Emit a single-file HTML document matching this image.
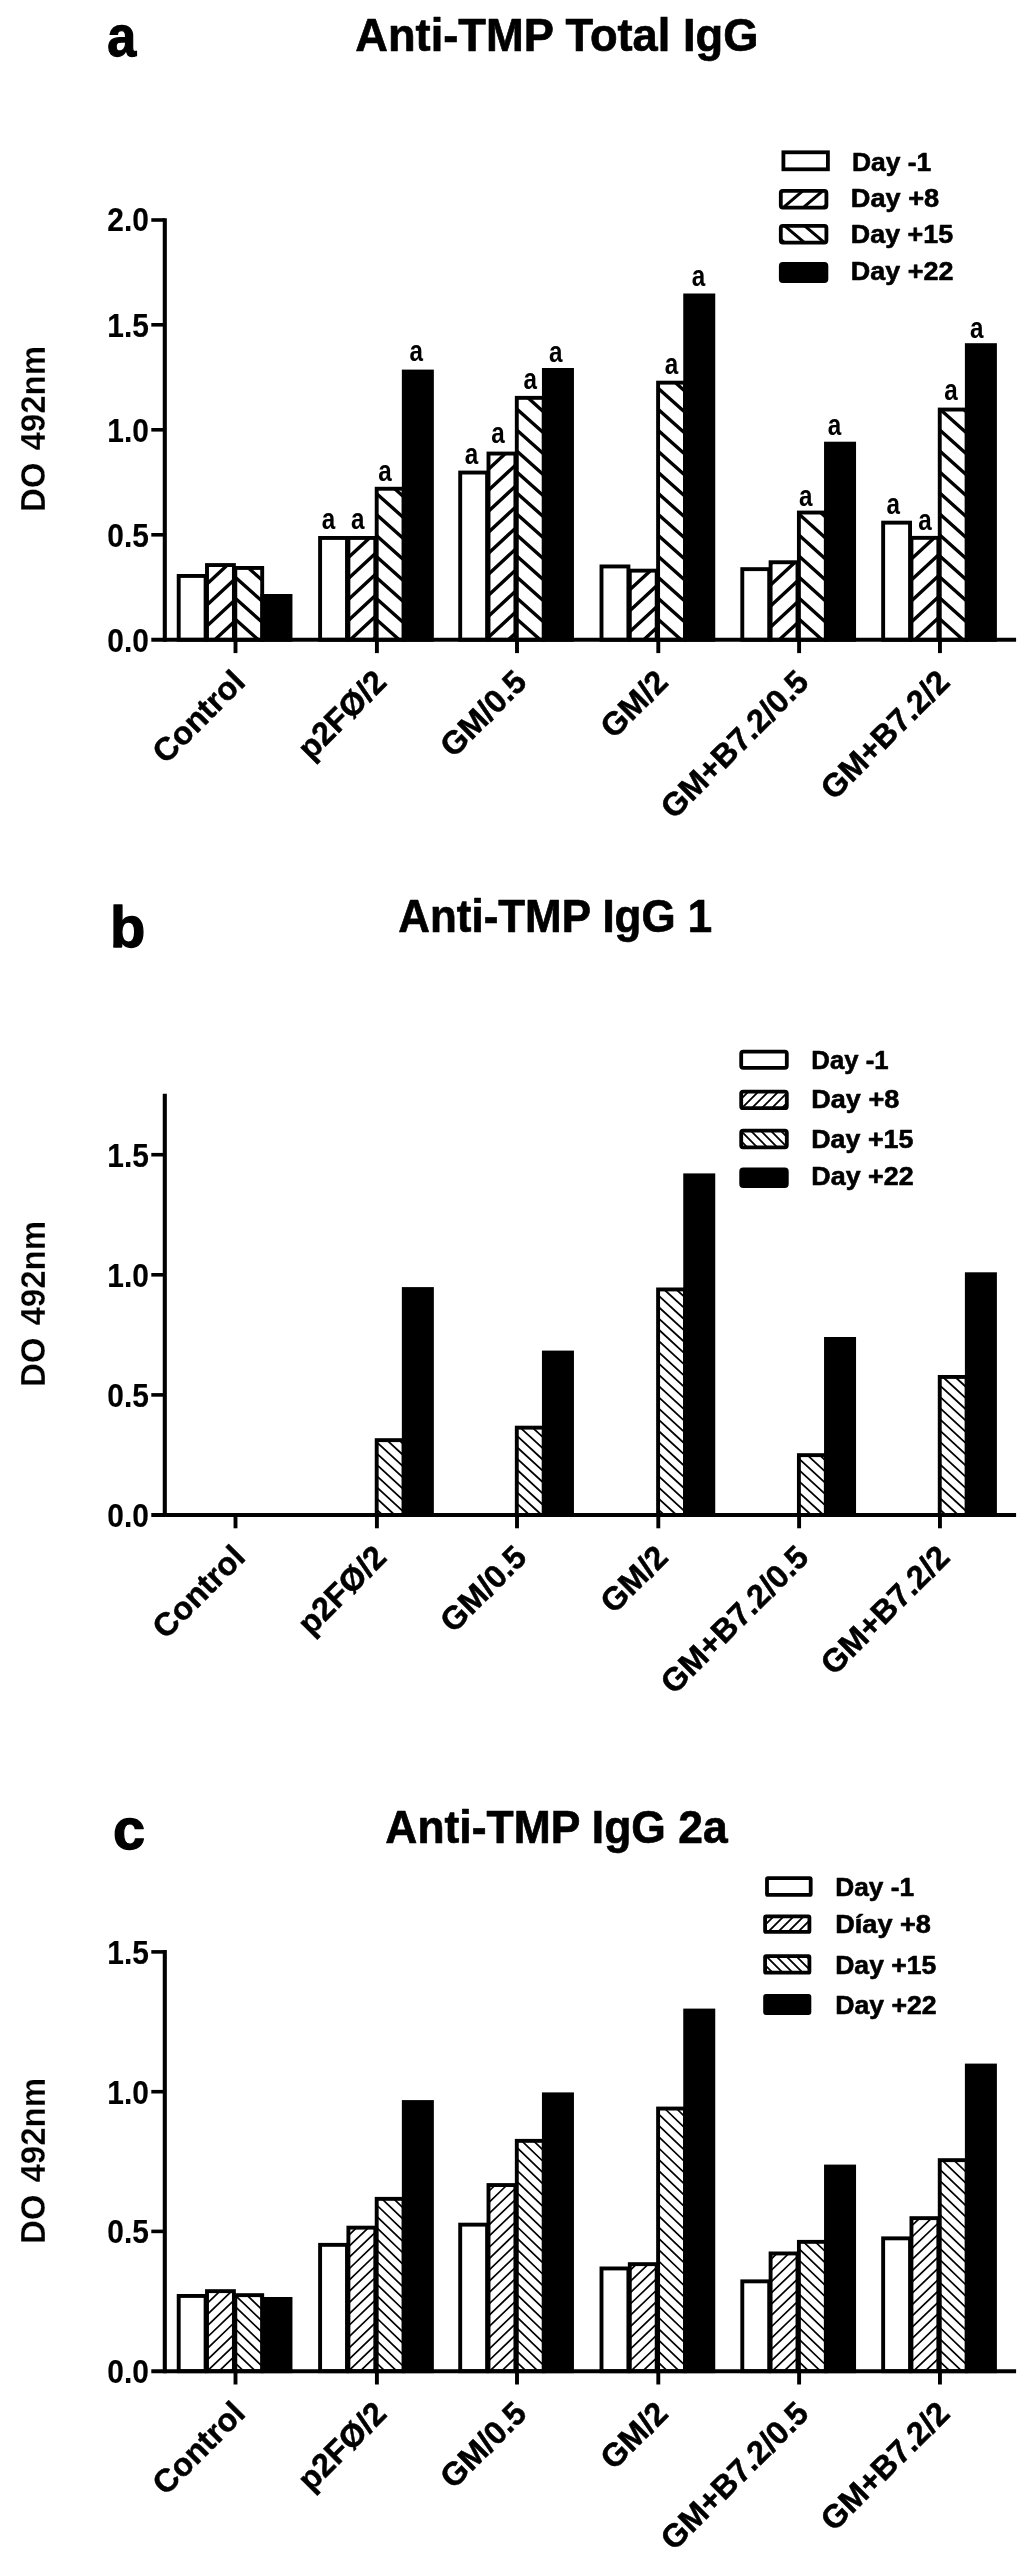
<!DOCTYPE html>
<html lang="en"><head><meta charset="utf-8"><title>Anti-TMP IgG responses</title>
<style>html,body{margin:0;padding:0;background:#fff}body{width:1024px;height:2556px;overflow:hidden}svg{display:block;filter:blur(0.45px)}line,path,rect{stroke:#000}</style>
</head><body>
<svg width="1024" height="2556" viewBox="0 0 1024 2556" font-family='"Liberation Sans", sans-serif' fill="#000">
<rect x="0" y="0" width="1024" height="2556" style="fill:#fff;stroke:none"/>
<g id="panel-a">
<text transform="translate(107.30,55.50) scale(0.9000,1)" font-size="57.8" font-weight="bold" text-anchor="start" stroke="#000" stroke-width="1.3" stroke-linejoin="round">a</text>
<text transform="translate(556.80,51.30) scale(0.9840,1)" font-size="46" font-weight="bold" text-anchor="middle" stroke="#000" stroke-width="0.7" stroke-linejoin="round">Anti-TMP Total IgG</text>
<rect x="178.70" y="575.95" width="26.90" height="63.85" fill="none" stroke-width="3.9"/>
<path d="M207.0 584.0L227.4 565.1M207.0 605.0L233.9 580.0M207.0 626.0L233.9 601.0M214.8 639.8L233.9 622.0" fill="none" stroke-width="3.4"/>
<rect x="207.00" y="565.05" width="26.90" height="74.75" fill="none" stroke-width="3.9"/>
<path d="M248.4 568.0L262.2 580.3M235.3 577.3L262.2 601.3M235.3 598.3L262.2 622.3M235.3 619.3L258.3 639.8" fill="none" stroke-width="3.4"/>
<rect x="235.30" y="567.95" width="26.90" height="71.85" fill="none" stroke-width="3.9"/>
<rect x="262.40" y="595.95" width="28.10" height="43.85" fill="#000" stroke-width="3.9"/>
<rect x="320.10" y="537.95" width="26.90" height="101.85" fill="none" stroke-width="3.9"/>
<path d="M348.4 557.5L369.5 538.0M348.4 578.5L375.3 553.5M348.4 599.5L375.3 574.5M348.4 620.5L375.3 595.5M350.3 639.8L375.3 616.5M372.9 639.8L375.3 637.5" fill="none" stroke-width="3.4"/>
<rect x="348.40" y="537.95" width="26.90" height="101.85" fill="none" stroke-width="3.9"/>
<path d="M394.7 488.8L403.6 496.7M376.7 493.7L403.6 517.7M376.7 514.7L403.6 538.7M376.7 535.7L403.6 559.7M376.7 556.7L403.6 580.7M376.7 577.7L403.6 601.7M376.7 598.7L403.6 622.7M376.7 619.7L399.2 639.8" fill="none" stroke-width="3.4"/>
<rect x="376.70" y="488.75" width="26.90" height="151.05" fill="none" stroke-width="3.9"/>
<rect x="403.80" y="371.55" width="28.10" height="268.25" fill="#000" stroke-width="3.9"/>
<rect x="460.20" y="472.55" width="26.90" height="167.25" fill="none" stroke-width="3.9"/>
<path d="M488.5 469.3L505.4 453.6M488.5 490.3L515.4 465.2M488.5 511.3L515.4 486.2M488.5 532.3L515.4 507.2M488.5 553.3L515.4 528.2M488.5 574.3L515.4 549.2M488.5 595.3L515.4 570.2M488.5 616.3L515.4 591.2M488.5 637.3L515.4 612.2M508.3 639.8L515.4 633.2" fill="none" stroke-width="3.4"/>
<rect x="488.50" y="453.55" width="26.90" height="186.25" fill="none" stroke-width="3.9"/>
<path d="M527.9 397.8L543.7 412.0M516.8 408.9L543.7 433.0M516.8 429.9L543.7 454.0M516.8 450.9L543.7 475.0M516.8 471.9L543.7 496.0M516.8 492.9L543.7 517.0M516.8 513.9L543.7 538.0M516.8 534.9L543.7 559.0M516.8 555.9L543.7 580.0M516.8 576.9L543.7 601.0M516.8 597.9L543.7 622.0M516.8 618.9L540.2 639.8" fill="none" stroke-width="3.4"/>
<rect x="516.80" y="397.85" width="26.90" height="241.95" fill="none" stroke-width="3.9"/>
<rect x="543.90" y="369.95" width="28.10" height="269.85" fill="#000" stroke-width="3.9"/>
<rect x="601.50" y="566.45" width="26.90" height="73.35" fill="none" stroke-width="3.9"/>
<path d="M629.8 589.8L650.4 570.7M629.8 610.8L656.7 585.8M629.8 631.8L656.7 606.8M643.8 639.8L656.7 627.8" fill="none" stroke-width="3.4"/>
<rect x="629.80" y="570.65" width="26.90" height="69.15" fill="none" stroke-width="3.9"/>
<path d="M675.3 382.6L685.0 391.3M658.1 388.2L685.0 412.3M658.1 409.2L685.0 433.3M658.1 430.2L685.0 454.3M658.1 451.2L685.0 475.3M658.1 472.2L685.0 496.3M658.1 493.2L685.0 517.3M658.1 514.2L685.0 538.3M658.1 535.2L685.0 559.3M658.1 556.2L685.0 580.3M658.1 577.2L685.0 601.3M658.1 598.2L685.0 622.3M658.1 619.2L681.1 639.8" fill="none" stroke-width="3.4"/>
<rect x="658.10" y="382.65" width="26.90" height="257.15" fill="none" stroke-width="3.9"/>
<rect x="685.20" y="295.45" width="28.10" height="344.35" fill="#000" stroke-width="3.9"/>
<rect x="742.30" y="569.15" width="26.90" height="70.65" fill="none" stroke-width="3.9"/>
<path d="M770.6 563.9L772.4 562.2M770.6 584.9L795.0 562.2M770.6 605.9L797.5 580.9M770.6 626.9L797.5 601.9M779.3 639.8L797.5 622.9" fill="none" stroke-width="3.4"/>
<rect x="770.60" y="562.25" width="26.90" height="77.55" fill="none" stroke-width="3.9"/>
<path d="M820.6 512.6L825.8 517.2M798.9 514.1L825.8 538.2M798.9 535.1L825.8 559.2M798.9 556.1L825.8 580.2M798.9 577.1L825.8 601.2M798.9 598.1L825.8 622.2M798.9 619.1L822.0 639.8" fill="none" stroke-width="3.4"/>
<rect x="798.90" y="512.55" width="26.90" height="127.25" fill="none" stroke-width="3.9"/>
<rect x="826.00" y="443.65" width="28.10" height="196.15" fill="#000" stroke-width="3.9"/>
<rect x="883.15" y="522.65" width="26.90" height="117.15" fill="none" stroke-width="3.9"/>
<path d="M911.4 537.9L911.5 537.9M911.4 558.9L934.1 537.9M911.4 579.9L938.3 554.9M911.4 600.9L938.3 575.9M911.4 621.9L938.3 596.9M914.8 639.8L938.3 617.9M937.4 639.8L938.3 638.9" fill="none" stroke-width="3.4"/>
<rect x="911.45" y="537.85" width="26.90" height="101.95" fill="none" stroke-width="3.9"/>
<path d="M963.8 409.6L966.6 412.1M940.3 409.6L966.6 433.1M939.8 430.0L966.6 454.1M939.8 451.0L966.6 475.1M939.8 472.0L966.6 496.1M939.8 493.0L966.6 517.1M939.8 514.0L966.6 538.1M939.8 535.0L966.6 559.1M939.8 556.0L966.6 580.1M939.8 577.0L966.6 601.1M939.8 598.0L966.6 622.1M939.8 619.0L963.0 639.8" fill="none" stroke-width="3.4"/>
<rect x="939.75" y="409.55" width="26.90" height="230.25" fill="none" stroke-width="3.9"/>
<rect x="966.85" y="345.15" width="28.10" height="294.65" fill="#000" stroke-width="3.9"/>
<line x1="164.80" y1="218.30" x2="164.80" y2="641.80" stroke-width="4.1"/>
<line x1="151.30" y1="639.80" x2="1016.10" y2="639.80" stroke-width="4.0"/>
<line x1="151.30" y1="220.00" x2="164.80" y2="220.00" stroke-width="3.6"/>
<text transform="translate(148.80,230.70) scale(0.9000,1)" font-size="33.2" font-weight="bold" text-anchor="end" stroke="#000" stroke-width="0.15" stroke-linejoin="round">2.0</text>
<line x1="151.30" y1="324.80" x2="164.80" y2="324.80" stroke-width="3.6"/>
<text transform="translate(148.80,336.80) scale(0.9000,1)" font-size="33.2" font-weight="bold" text-anchor="end" stroke="#000" stroke-width="0.15" stroke-linejoin="round">1.5</text>
<line x1="151.30" y1="429.80" x2="164.80" y2="429.80" stroke-width="3.6"/>
<text transform="translate(148.80,441.80) scale(0.9000,1)" font-size="33.2" font-weight="bold" text-anchor="end" stroke="#000" stroke-width="0.15" stroke-linejoin="round">1.0</text>
<line x1="151.30" y1="534.80" x2="164.80" y2="534.80" stroke-width="3.6"/>
<text transform="translate(148.80,546.80) scale(0.9000,1)" font-size="33.2" font-weight="bold" text-anchor="end" stroke="#000" stroke-width="0.15" stroke-linejoin="round">0.5</text>
<text transform="translate(148.80,651.80) scale(0.9000,1)" font-size="33.2" font-weight="bold" text-anchor="end" stroke="#000" stroke-width="0.15" stroke-linejoin="round">0.0</text>
<line x1="235.50" y1="639.80" x2="235.50" y2="653.10" stroke-width="3.9"/>
<line x1="376.90" y1="639.80" x2="376.90" y2="653.10" stroke-width="3.9"/>
<line x1="517.00" y1="639.80" x2="517.00" y2="653.10" stroke-width="3.9"/>
<line x1="658.30" y1="639.80" x2="658.30" y2="653.10" stroke-width="3.9"/>
<line x1="799.10" y1="639.80" x2="799.10" y2="653.10" stroke-width="3.9"/>
<line x1="939.95" y1="639.80" x2="939.95" y2="653.10" stroke-width="3.9"/>
<text transform="translate(45.20,429.00) rotate(-90) scale(0.9430,1)" font-size="35" font-weight="bold" text-anchor="middle" word-spacing="3" stroke="#fff" stroke-width="0.3">DO 492nm</text>
<text transform="translate(246.90,683.80) rotate(-45)" font-size="32.3" font-weight="bold" text-anchor="end" stroke="#000" stroke-width="0.5" stroke-linejoin="round">Control</text>
<text transform="translate(388.30,683.80) rotate(-45)" font-size="32.3" font-weight="bold" text-anchor="end" stroke="#000" stroke-width="0.5" stroke-linejoin="round">p2FØ/2</text>
<text transform="translate(528.40,683.80) rotate(-45)" font-size="32.3" font-weight="bold" text-anchor="end" stroke="#000" stroke-width="0.5" stroke-linejoin="round">GM/0.5</text>
<text transform="translate(669.70,683.80) rotate(-45)" font-size="32.3" font-weight="bold" text-anchor="end" stroke="#000" stroke-width="0.5" stroke-linejoin="round">GM/2</text>
<text transform="translate(810.50,683.80) rotate(-45)" font-size="32.3" font-weight="bold" text-anchor="end" stroke="#000" stroke-width="0.5" stroke-linejoin="round">GM+B7.2/0.5</text>
<text transform="translate(951.35,683.80) rotate(-45)" font-size="32.3" font-weight="bold" text-anchor="end" stroke="#000" stroke-width="0.5" stroke-linejoin="round">GM+B7.2/2</text>
<rect x="783.40" y="152.30" width="44.50" height="17.00" fill="none" stroke-width="3.8"/>
<path d="M780.8 192.6L782.8 190.9M783.2 207.6L802.8 190.9M803.2 207.6L822.8 190.9M823.2 207.6L826.4 204.9" fill="none" stroke-width="3.0"/>
<rect x="780.80" y="190.90" width="45.60" height="16.70" fill="none" stroke-width="3.8" rx="2"/>
<path d="M824.7 225.8L826.4 227.2M804.7 225.8L824.5 242.6M784.7 225.8L804.5 242.6M780.8 239.5L784.5 242.6" fill="none" stroke-width="3.0"/>
<rect x="780.80" y="225.80" width="45.60" height="16.80" fill="none" stroke-width="3.8" rx="2"/>
<rect x="780.80" y="264.00" width="45.60" height="17.10" fill="#000" stroke-width="3.8" rx="2"/>
<text transform="translate(851.88,170.80) scale(1.0092,1)" font-size="26.2" font-weight="bold" text-anchor="start" stroke="#000" stroke-width="0.6" stroke-linejoin="round">Day -1</text>
<text transform="translate(850.83,206.90) scale(1.0375,1)" font-size="26.2" font-weight="bold" text-anchor="start" stroke="#000" stroke-width="0.6" stroke-linejoin="round">Day +8</text>
<text transform="translate(850.85,242.80) scale(1.0257,1)" font-size="26.2" font-weight="bold" text-anchor="start" stroke="#000" stroke-width="0.6" stroke-linejoin="round">Day +15</text>
<text transform="translate(850.85,280.40) scale(1.0289,1)" font-size="26.2" font-weight="bold" text-anchor="start" stroke="#000" stroke-width="0.6" stroke-linejoin="round">Day +22</text>
<text transform="translate(328.40,528.90) scale(0.8200,1)" font-size="29.6" font-weight="bold" text-anchor="middle">a</text>
<text transform="translate(357.70,528.90) scale(0.8200,1)" font-size="29.6" font-weight="bold" text-anchor="middle">a</text>
<text transform="translate(385.00,480.50) scale(0.8200,1)" font-size="29.6" font-weight="bold" text-anchor="middle">a</text>
<text transform="translate(416.30,360.70) scale(0.8200,1)" font-size="29.6" font-weight="bold" text-anchor="middle">a</text>
<text transform="translate(471.40,463.80) scale(0.8200,1)" font-size="29.6" font-weight="bold" text-anchor="middle">a</text>
<text transform="translate(498.00,443.30) scale(0.8200,1)" font-size="29.6" font-weight="bold" text-anchor="middle">a</text>
<text transform="translate(530.30,389.10) scale(0.8200,1)" font-size="29.6" font-weight="bold" text-anchor="middle">a</text>
<text transform="translate(555.80,361.90) scale(0.8200,1)" font-size="29.6" font-weight="bold" text-anchor="middle">a</text>
<text transform="translate(671.60,373.50) scale(0.8200,1)" font-size="29.6" font-weight="bold" text-anchor="middle">a</text>
<text transform="translate(698.60,285.70) scale(0.8200,1)" font-size="29.6" font-weight="bold" text-anchor="middle">a</text>
<text transform="translate(805.80,506.00) scale(0.8200,1)" font-size="29.6" font-weight="bold" text-anchor="middle">a</text>
<text transform="translate(834.40,434.80) scale(0.8200,1)" font-size="29.6" font-weight="bold" text-anchor="middle">a</text>
<text transform="translate(893.20,513.50) scale(0.8200,1)" font-size="29.6" font-weight="bold" text-anchor="middle">a</text>
<text transform="translate(925.00,530.00) scale(0.8200,1)" font-size="29.6" font-weight="bold" text-anchor="middle">a</text>
<text transform="translate(951.10,399.50) scale(0.8200,1)" font-size="29.6" font-weight="bold" text-anchor="middle">a</text>
<text transform="translate(976.80,337.50) scale(0.8200,1)" font-size="29.6" font-weight="bold" text-anchor="middle">a</text>
</g>
<g id="panel-b">
<text transform="translate(110.00,947.00)" font-size="57.8" font-weight="bold" text-anchor="start" stroke="#000" stroke-width="1.3" stroke-linejoin="round">b</text>
<text transform="translate(555.25,932.00) scale(0.9550,1)" font-size="46" font-weight="bold" text-anchor="middle" stroke="#000" stroke-width="0.7" stroke-linejoin="round">Anti-TMP IgG 1</text>
<path d="M399.1 1440.2L403.6 1444.3M386.9 1440.2L403.6 1455.5M376.7 1442.1L403.6 1466.8M376.7 1453.3L403.6 1478.1M376.7 1464.6L403.6 1489.4M376.7 1475.9L403.6 1500.6M376.7 1487.1L403.6 1511.9M376.7 1498.4L394.7 1515.0M376.7 1509.7L382.5 1515.0" fill="none" stroke-width="1.8"/>
<rect x="376.70" y="1440.15" width="26.90" height="74.85" fill="none" stroke-width="3.9"/>
<rect x="403.80" y="1289.05" width="28.10" height="225.95" fill="#000" stroke-width="3.9"/>
<path d="M532.5 1427.7L543.7 1437.9M520.3 1427.7L543.7 1449.2M516.8 1435.7L543.7 1460.5M516.8 1447.0L543.7 1471.7M516.8 1458.3L543.7 1483.0M516.8 1469.5L543.7 1494.3M516.8 1480.8L543.7 1505.5M516.8 1492.1L541.7 1515.0M516.8 1503.3L529.5 1515.0M516.8 1514.6L517.2 1515.0" fill="none" stroke-width="1.8"/>
<rect x="516.80" y="1427.65" width="26.90" height="87.35" fill="none" stroke-width="3.9"/>
<rect x="543.90" y="1352.55" width="28.10" height="162.45" fill="#000" stroke-width="3.9"/>
<path d="M676.3 1289.5L685.0 1297.4M664.1 1289.5L685.0 1308.7M658.1 1295.2L685.0 1320.0M658.1 1306.5L685.0 1331.2M658.1 1317.8L685.0 1342.5M658.1 1329.0L685.0 1353.8M658.1 1340.3L685.0 1365.1M658.1 1351.6L685.0 1376.3M658.1 1362.9L685.0 1387.6M658.1 1374.1L685.0 1398.9M658.1 1385.4L685.0 1410.1M658.1 1396.7L685.0 1421.4M658.1 1407.9L685.0 1432.7M658.1 1419.2L685.0 1444.0M658.1 1430.5L685.0 1455.2M658.1 1441.7L685.0 1466.5M658.1 1453.0L685.0 1477.8M658.1 1464.3L685.0 1489.0M658.1 1475.6L685.0 1500.3M658.1 1486.8L685.0 1511.6M658.1 1498.1L676.5 1515.0M658.1 1509.4L664.2 1515.0" fill="none" stroke-width="1.8"/>
<rect x="658.10" y="1289.45" width="26.90" height="225.55" fill="none" stroke-width="3.9"/>
<rect x="685.20" y="1175.35" width="28.10" height="339.65" fill="#000" stroke-width="3.9"/>
<path d="M819.7 1455.2L825.8 1460.8M807.4 1455.2L825.8 1472.1M798.9 1458.6L825.8 1483.3M798.9 1469.8L825.8 1494.6M798.9 1481.1L825.8 1505.9M798.9 1492.4L823.5 1515.0M798.9 1503.7L811.2 1515.0M798.9 1514.9L799.0 1515.0" fill="none" stroke-width="1.8"/>
<rect x="798.90" y="1455.15" width="26.90" height="59.85" fill="none" stroke-width="3.9"/>
<rect x="826.00" y="1338.95" width="28.10" height="176.05" fill="#000" stroke-width="3.9"/>
<path d="M955.2 1377.0L966.6 1387.5M942.9 1377.0L966.6 1398.8M939.8 1385.3L966.6 1410.0M939.8 1396.6L966.6 1421.3M939.8 1407.8L966.6 1432.6M939.8 1419.1L966.6 1443.9M939.8 1430.4L966.6 1455.1M939.8 1441.7L966.6 1466.4M939.8 1452.9L966.6 1477.7M939.8 1464.2L966.6 1488.9M939.8 1475.5L966.6 1500.2M939.8 1486.7L966.6 1511.5M939.8 1498.0L958.2 1515.0M939.8 1509.3L946.0 1515.0" fill="none" stroke-width="1.8"/>
<rect x="939.75" y="1376.95" width="26.90" height="138.05" fill="none" stroke-width="3.9"/>
<rect x="966.85" y="1274.25" width="28.10" height="240.75" fill="#000" stroke-width="3.9"/>
<line x1="164.80" y1="1093.80" x2="164.80" y2="1517.00" stroke-width="4.1"/>
<line x1="151.30" y1="1515.00" x2="1016.10" y2="1515.00" stroke-width="4.0"/>
<line x1="151.30" y1="1154.70" x2="164.80" y2="1154.70" stroke-width="3.6"/>
<text transform="translate(148.80,1166.70) scale(0.9000,1)" font-size="33.2" font-weight="bold" text-anchor="end" stroke="#000" stroke-width="0.15" stroke-linejoin="round">1.5</text>
<line x1="151.30" y1="1274.80" x2="164.80" y2="1274.80" stroke-width="3.6"/>
<text transform="translate(148.80,1286.80) scale(0.9000,1)" font-size="33.2" font-weight="bold" text-anchor="end" stroke="#000" stroke-width="0.15" stroke-linejoin="round">1.0</text>
<line x1="151.30" y1="1394.90" x2="164.80" y2="1394.90" stroke-width="3.6"/>
<text transform="translate(148.80,1406.90) scale(0.9000,1)" font-size="33.2" font-weight="bold" text-anchor="end" stroke="#000" stroke-width="0.15" stroke-linejoin="round">0.5</text>
<text transform="translate(148.80,1527.00) scale(0.9000,1)" font-size="33.2" font-weight="bold" text-anchor="end" stroke="#000" stroke-width="0.15" stroke-linejoin="round">0.0</text>
<line x1="235.50" y1="1515.00" x2="235.50" y2="1528.30" stroke-width="3.9"/>
<line x1="376.90" y1="1515.00" x2="376.90" y2="1528.30" stroke-width="3.9"/>
<line x1="517.00" y1="1515.00" x2="517.00" y2="1528.30" stroke-width="3.9"/>
<line x1="658.30" y1="1515.00" x2="658.30" y2="1528.30" stroke-width="3.9"/>
<line x1="799.10" y1="1515.00" x2="799.10" y2="1528.30" stroke-width="3.9"/>
<line x1="939.95" y1="1515.00" x2="939.95" y2="1528.30" stroke-width="3.9"/>
<text transform="translate(45.20,1304.00) rotate(-90) scale(0.9430,1)" font-size="35" font-weight="bold" text-anchor="middle" word-spacing="3" stroke="#fff" stroke-width="0.3">DO 492nm</text>
<text transform="translate(246.90,1559.00) rotate(-45)" font-size="32.3" font-weight="bold" text-anchor="end" stroke="#000" stroke-width="0.5" stroke-linejoin="round">Control</text>
<text transform="translate(388.30,1559.00) rotate(-45)" font-size="32.3" font-weight="bold" text-anchor="end" stroke="#000" stroke-width="0.5" stroke-linejoin="round">p2FØ/2</text>
<text transform="translate(528.40,1559.00) rotate(-45)" font-size="32.3" font-weight="bold" text-anchor="end" stroke="#000" stroke-width="0.5" stroke-linejoin="round">GM/0.5</text>
<text transform="translate(669.70,1559.00) rotate(-45)" font-size="32.3" font-weight="bold" text-anchor="end" stroke="#000" stroke-width="0.5" stroke-linejoin="round">GM/2</text>
<text transform="translate(810.50,1559.00) rotate(-45)" font-size="32.3" font-weight="bold" text-anchor="end" stroke="#000" stroke-width="0.5" stroke-linejoin="round">GM+B7.2/0.5</text>
<text transform="translate(951.35,1559.00) rotate(-45)" font-size="32.3" font-weight="bold" text-anchor="end" stroke="#000" stroke-width="0.5" stroke-linejoin="round">GM+B7.2/2</text>
<rect x="741.20" y="1051.70" width="45.60" height="16.10" fill="none" stroke-width="3.8" rx="2"/>
<path d="M741.2 1098.8L748.4 1091.6M741.8 1108.2L758.4 1091.6M751.8 1108.2L768.4 1091.6M761.8 1108.2L778.4 1091.6M771.8 1108.2L786.8 1093.2M781.8 1108.2L786.8 1103.2" fill="none" stroke-width="1.8"/>
<rect x="741.20" y="1091.60" width="45.60" height="16.60" fill="none" stroke-width="3.8" rx="2"/>
<path d="M780.7 1130.7L786.8 1136.8M770.7 1130.7L786.8 1146.8M760.7 1130.7L777.3 1147.3M750.7 1130.7L767.3 1147.3M741.2 1131.2L757.3 1147.3M741.2 1141.2L747.3 1147.3" fill="none" stroke-width="1.8"/>
<rect x="741.20" y="1130.70" width="45.60" height="16.60" fill="none" stroke-width="3.8" rx="2"/>
<rect x="741.20" y="1169.40" width="45.60" height="16.60" fill="#000" stroke-width="3.8" rx="2"/>
<text transform="translate(811.33,1069.30) scale(0.9829,1)" font-size="26.2" font-weight="bold" text-anchor="start" stroke="#000" stroke-width="0.6" stroke-linejoin="round">Day -1</text>
<text transform="translate(811.24,1107.80) scale(1.0327,1)" font-size="26.2" font-weight="bold" text-anchor="start" stroke="#000" stroke-width="0.6" stroke-linejoin="round">Day +8</text>
<text transform="translate(811.26,1148.20) scale(1.0237,1)" font-size="26.2" font-weight="bold" text-anchor="start" stroke="#000" stroke-width="0.6" stroke-linejoin="round">Day +15</text>
<text transform="translate(811.25,1185.10) scale(1.0268,1)" font-size="26.2" font-weight="bold" text-anchor="start" stroke="#000" stroke-width="0.6" stroke-linejoin="round">Day +22</text>
</g>
<g id="panel-c">
<text transform="translate(113.00,1848.50)" font-size="57.8" font-weight="bold" text-anchor="start" stroke="#000" stroke-width="1.3" stroke-linejoin="round">c</text>
<text transform="translate(556.50,1843.10) scale(0.9660,1)" font-size="46" font-weight="bold" text-anchor="middle" stroke="#000" stroke-width="0.7" stroke-linejoin="round">Anti-TMP IgG 2a</text>
<rect x="178.70" y="2295.95" width="26.90" height="75.25" fill="none" stroke-width="3.9"/>
<path d="M207.0 2292.3L208.2 2291.1M207.0 2303.6L219.9 2291.1M207.0 2314.9L231.7 2291.1M207.0 2326.2L233.9 2300.4M207.0 2337.5L233.9 2311.7M207.0 2348.8L233.9 2323.0M207.0 2360.1L233.9 2334.3M207.2 2371.2L233.9 2345.6M219.0 2371.2L233.9 2356.9M230.7 2371.2L233.9 2368.2" fill="none" stroke-width="1.7"/>
<rect x="207.00" y="2291.15" width="26.90" height="80.05" fill="none" stroke-width="3.9"/>
<path d="M258.7 2295.1L262.2 2298.5M246.9 2295.1L262.2 2309.8M235.3 2295.3L262.2 2321.1M235.3 2306.6L262.2 2332.4M235.3 2317.9L262.2 2343.7M235.3 2329.2L262.2 2355.0M235.3 2340.5L262.2 2366.3M235.3 2351.8L255.5 2371.2M235.3 2363.1L243.7 2371.2" fill="none" stroke-width="1.7"/>
<rect x="235.30" y="2295.15" width="26.90" height="76.05" fill="none" stroke-width="3.9"/>
<rect x="262.40" y="2298.95" width="28.10" height="72.25" fill="#000" stroke-width="3.9"/>
<rect x="320.10" y="2244.85" width="26.90" height="126.35" fill="none" stroke-width="3.9"/>
<path d="M348.4 2235.6L356.7 2227.6M348.4 2246.9L368.5 2227.6M348.4 2258.2L375.3 2232.4M348.4 2269.5L375.3 2243.7M348.4 2280.8L375.3 2255.0M348.4 2292.1L375.3 2266.3M348.4 2303.4L375.3 2277.6M348.4 2314.7L375.3 2288.9M348.4 2326.0L375.3 2300.2M348.4 2337.3L375.3 2311.5M348.4 2348.6L375.3 2322.8M348.4 2359.9L375.3 2334.1M348.4 2371.2L375.3 2345.4M360.2 2371.2L375.3 2356.7M372.0 2371.2L375.3 2368.0" fill="none" stroke-width="1.7"/>
<rect x="348.40" y="2227.65" width="26.90" height="143.55" fill="none" stroke-width="3.9"/>
<path d="M393.8 2198.8L403.6 2208.3M382.0 2198.8L403.6 2219.6M376.7 2205.0L403.6 2230.9M376.7 2216.3L403.6 2242.2M376.7 2227.6L403.6 2253.5M376.7 2238.9L403.6 2264.8M376.7 2250.2L403.6 2276.1M376.7 2261.5L403.6 2287.4M376.7 2272.8L403.6 2298.7M376.7 2284.1L403.6 2310.0M376.7 2295.4L403.6 2321.3M376.7 2306.7L403.6 2332.6M376.7 2318.0L403.6 2343.9M376.7 2329.3L403.6 2355.2M376.7 2340.6L403.6 2366.5M376.7 2351.9L396.8 2371.2M376.7 2363.2L385.0 2371.2" fill="none" stroke-width="1.7"/>
<rect x="376.70" y="2198.85" width="26.90" height="172.35" fill="none" stroke-width="3.9"/>
<rect x="403.80" y="2102.05" width="28.10" height="269.15" fill="#000" stroke-width="3.9"/>
<rect x="460.20" y="2224.65" width="26.90" height="146.55" fill="none" stroke-width="3.9"/>
<path d="M488.5 2191.5L495.3 2185.0M488.5 2202.8L507.0 2185.0M488.5 2214.1L515.4 2188.3M488.5 2225.4L515.4 2199.6M488.5 2236.7L515.4 2210.9M488.5 2248.0L515.4 2222.2M488.5 2259.3L515.4 2233.5M488.5 2270.6L515.4 2244.8M488.5 2281.9L515.4 2256.1M488.5 2293.2L515.4 2267.4M488.5 2304.5L515.4 2278.7M488.5 2315.8L515.4 2290.0M488.5 2327.1L515.4 2301.3M488.5 2338.4L515.4 2312.6M488.5 2349.7L515.4 2323.9M488.5 2361.0L515.4 2335.2M489.7 2371.2L515.4 2346.5M501.5 2371.2L515.4 2357.8M513.2 2371.2L515.4 2369.1" fill="none" stroke-width="1.7"/>
<rect x="488.50" y="2185.05" width="26.90" height="186.15" fill="none" stroke-width="3.9"/>
<path d="M533.5 2140.8L543.7 2150.7M521.7 2140.8L543.7 2162.0M516.8 2147.4L543.7 2173.3M516.8 2158.7L543.7 2184.6M516.8 2170.0L543.7 2195.9M516.8 2181.3L543.7 2207.2M516.8 2192.6L543.7 2218.5M516.8 2203.9L543.7 2229.8M516.8 2215.2L543.7 2241.1M516.8 2226.5L543.7 2252.4M516.8 2237.8L543.7 2263.7M516.8 2249.1L543.7 2275.0M516.8 2260.4L543.7 2286.3M516.8 2271.7L543.7 2297.6M516.8 2283.0L543.7 2308.9M516.8 2294.3L543.7 2320.2M516.8 2305.6L543.7 2331.5M516.8 2316.9L543.7 2342.8M516.8 2328.2L543.7 2354.1M516.8 2339.5L543.7 2365.4M516.8 2350.8L538.0 2371.2M516.8 2362.1L526.2 2371.2" fill="none" stroke-width="1.7"/>
<rect x="516.80" y="2140.85" width="26.90" height="230.35" fill="none" stroke-width="3.9"/>
<rect x="543.90" y="2094.35" width="28.10" height="276.85" fill="#000" stroke-width="3.9"/>
<rect x="601.50" y="2268.45" width="26.90" height="102.75" fill="none" stroke-width="3.9"/>
<path d="M629.8 2270.6L636.5 2264.1M629.8 2281.9L648.3 2264.1M629.8 2293.2L656.7 2267.4M629.8 2304.5L656.7 2278.7M629.8 2315.8L656.7 2290.0M629.8 2327.1L656.7 2301.3M629.8 2338.4L656.7 2312.6M629.8 2349.7L656.7 2323.9M629.8 2361.0L656.7 2335.2M630.9 2371.2L656.7 2346.5M642.7 2371.2L656.7 2357.8M654.5 2371.2L656.7 2369.1" fill="none" stroke-width="1.7"/>
<rect x="629.80" y="2264.15" width="26.90" height="107.05" fill="none" stroke-width="3.9"/>
<path d="M676.4 2108.5L685.0 2116.8M664.6 2108.5L685.0 2128.1M658.1 2113.6L685.0 2139.4M658.1 2124.9L685.0 2150.7M658.1 2136.2L685.0 2162.0M658.1 2147.5L685.0 2173.3M658.1 2158.8L685.0 2184.6M658.1 2170.1L685.0 2195.9M658.1 2181.4L685.0 2207.2M658.1 2192.7L685.0 2218.5M658.1 2204.0L685.0 2229.8M658.1 2215.3L685.0 2241.1M658.1 2226.6L685.0 2252.4M658.1 2237.9L685.0 2263.7M658.1 2249.2L685.0 2275.0M658.1 2260.5L685.0 2286.3M658.1 2271.8L685.0 2297.6M658.1 2283.1L685.0 2308.9M658.1 2294.4L685.0 2320.2M658.1 2305.7L685.0 2331.5M658.1 2317.0L685.0 2342.8M658.1 2328.3L685.0 2354.1M658.1 2339.6L685.0 2365.4M658.1 2350.9L679.3 2371.2M658.1 2362.2L667.5 2371.2" fill="none" stroke-width="1.7"/>
<rect x="658.10" y="2108.55" width="26.90" height="262.65" fill="none" stroke-width="3.9"/>
<rect x="685.20" y="2010.55" width="28.10" height="360.65" fill="#000" stroke-width="3.9"/>
<rect x="742.30" y="2281.35" width="26.90" height="89.85" fill="none" stroke-width="3.9"/>
<path d="M770.6 2259.7L777.1 2253.4M770.6 2271.0L788.9 2253.4M770.6 2282.3L797.5 2256.5M770.6 2293.6L797.5 2267.8M770.6 2304.9L797.5 2279.1M770.6 2316.2L797.5 2290.4M770.6 2327.5L797.5 2301.7M770.6 2338.8L797.5 2313.0M770.6 2350.1L797.5 2324.3M770.6 2361.4L797.5 2335.6M772.2 2371.2L797.5 2346.9M784.0 2371.2L797.5 2358.2M795.7 2371.2L797.5 2369.5" fill="none" stroke-width="1.7"/>
<rect x="770.60" y="2253.45" width="26.90" height="117.75" fill="none" stroke-width="3.9"/>
<path d="M815.3 2241.8L825.8 2252.0M803.5 2241.8L825.8 2263.3M798.9 2248.7L825.8 2274.6M798.9 2260.0L825.8 2285.9M798.9 2271.3L825.8 2297.2M798.9 2282.6L825.8 2308.5M798.9 2293.9L825.8 2319.8M798.9 2305.2L825.8 2331.1M798.9 2316.5L825.8 2342.4M798.9 2327.8L825.8 2353.7M798.9 2339.1L825.8 2365.0M798.9 2350.4L820.5 2371.2M798.9 2361.7L808.7 2371.2" fill="none" stroke-width="1.7"/>
<rect x="798.90" y="2241.85" width="26.90" height="129.35" fill="none" stroke-width="3.9"/>
<rect x="826.00" y="2166.55" width="28.10" height="204.65" fill="#000" stroke-width="3.9"/>
<rect x="883.15" y="2238.35" width="26.90" height="132.85" fill="none" stroke-width="3.9"/>
<path d="M911.4 2226.2L919.8 2218.1M911.4 2237.5L931.6 2218.1M911.4 2248.8L938.3 2223.0M911.4 2260.1L938.3 2234.3M911.4 2271.4L938.3 2245.6M911.4 2282.7L938.3 2256.9M911.4 2294.0L938.3 2268.2M911.4 2305.3L938.3 2279.5M911.4 2316.6L938.3 2290.8M911.4 2327.9L938.3 2302.1M911.4 2339.2L938.3 2313.4M911.4 2350.5L938.3 2324.7M911.4 2361.8L938.3 2336.0M913.4 2371.2L938.3 2347.3M925.2 2371.2L938.3 2358.6M937.0 2371.2L938.3 2369.9" fill="none" stroke-width="1.7"/>
<rect x="911.45" y="2218.15" width="26.90" height="153.05" fill="none" stroke-width="3.9"/>
<path d="M965.6 2160.1L966.6 2161.2M953.8 2160.1L966.6 2172.5M942.0 2160.1L966.6 2183.8M939.8 2169.3L966.6 2195.1M939.8 2180.6L966.6 2206.4M939.8 2191.9L966.6 2217.7M939.8 2203.2L966.6 2229.0M939.8 2214.5L966.6 2240.3M939.8 2225.8L966.6 2251.6M939.8 2237.1L966.6 2262.9M939.8 2248.4L966.6 2274.2M939.8 2259.7L966.6 2285.5M939.8 2271.0L966.6 2296.8M939.8 2282.3L966.6 2308.1M939.8 2293.6L966.6 2319.4M939.8 2304.9L966.6 2330.7M939.8 2316.2L966.6 2342.0M939.8 2327.5L966.6 2353.3M939.8 2338.8L966.6 2364.6M939.8 2350.1L961.8 2371.2M939.8 2361.4L950.0 2371.2" fill="none" stroke-width="1.7"/>
<rect x="939.75" y="2160.15" width="26.90" height="211.05" fill="none" stroke-width="3.9"/>
<rect x="966.85" y="2065.55" width="28.10" height="305.65" fill="#000" stroke-width="3.9"/>
<line x1="164.80" y1="1950.00" x2="164.80" y2="2373.20" stroke-width="4.1"/>
<line x1="151.30" y1="2371.20" x2="1016.10" y2="2371.20" stroke-width="4.0"/>
<line x1="151.30" y1="1951.90" x2="164.80" y2="1951.90" stroke-width="3.6"/>
<text transform="translate(148.80,1963.90) scale(0.9000,1)" font-size="33.2" font-weight="bold" text-anchor="end" stroke="#000" stroke-width="0.15" stroke-linejoin="round">1.5</text>
<line x1="151.30" y1="2091.70" x2="164.80" y2="2091.70" stroke-width="3.6"/>
<text transform="translate(148.80,2103.70) scale(0.9000,1)" font-size="33.2" font-weight="bold" text-anchor="end" stroke="#000" stroke-width="0.15" stroke-linejoin="round">1.0</text>
<line x1="151.30" y1="2231.40" x2="164.80" y2="2231.40" stroke-width="3.6"/>
<text transform="translate(148.80,2243.40) scale(0.9000,1)" font-size="33.2" font-weight="bold" text-anchor="end" stroke="#000" stroke-width="0.15" stroke-linejoin="round">0.5</text>
<text transform="translate(148.80,2383.20) scale(0.9000,1)" font-size="33.2" font-weight="bold" text-anchor="end" stroke="#000" stroke-width="0.15" stroke-linejoin="round">0.0</text>
<line x1="235.50" y1="2371.20" x2="235.50" y2="2384.50" stroke-width="3.9"/>
<line x1="376.90" y1="2371.20" x2="376.90" y2="2384.50" stroke-width="3.9"/>
<line x1="517.00" y1="2371.20" x2="517.00" y2="2384.50" stroke-width="3.9"/>
<line x1="658.30" y1="2371.20" x2="658.30" y2="2384.50" stroke-width="3.9"/>
<line x1="799.10" y1="2371.20" x2="799.10" y2="2384.50" stroke-width="3.9"/>
<line x1="939.95" y1="2371.20" x2="939.95" y2="2384.50" stroke-width="3.9"/>
<text transform="translate(45.20,2161.00) rotate(-90) scale(0.9430,1)" font-size="35" font-weight="bold" text-anchor="middle" word-spacing="3" stroke="#fff" stroke-width="0.3">DO 492nm</text>
<text transform="translate(246.90,2415.20) rotate(-45)" font-size="32.3" font-weight="bold" text-anchor="end" stroke="#000" stroke-width="0.5" stroke-linejoin="round">Control</text>
<text transform="translate(388.30,2415.20) rotate(-45)" font-size="32.3" font-weight="bold" text-anchor="end" stroke="#000" stroke-width="0.5" stroke-linejoin="round">p2FØ/2</text>
<text transform="translate(528.40,2415.20) rotate(-45)" font-size="32.3" font-weight="bold" text-anchor="end" stroke="#000" stroke-width="0.5" stroke-linejoin="round">GM/0.5</text>
<text transform="translate(669.70,2415.20) rotate(-45)" font-size="32.3" font-weight="bold" text-anchor="end" stroke="#000" stroke-width="0.5" stroke-linejoin="round">GM/2</text>
<text transform="translate(810.50,2415.20) rotate(-45)" font-size="32.3" font-weight="bold" text-anchor="end" stroke="#000" stroke-width="0.5" stroke-linejoin="round">GM+B7.2/0.5</text>
<text transform="translate(951.35,2415.20) rotate(-45)" font-size="32.3" font-weight="bold" text-anchor="end" stroke="#000" stroke-width="0.5" stroke-linejoin="round">GM+B7.2/2</text>
<rect x="767.00" y="1878.10" width="43.70" height="16.80" fill="none" stroke-width="3.8" rx="1"/>
<path d="M765.1 1924.9L773.7 1916.3M768.1 1931.9L783.7 1916.3M778.1 1931.9L793.7 1916.3M788.1 1931.9L803.7 1916.3M798.1 1931.9L809.4 1920.6M808.1 1931.9L809.4 1930.6" fill="none" stroke-width="1.8"/>
<rect x="765.10" y="1916.30" width="44.30" height="15.60" fill="none" stroke-width="3.8" rx="1"/>
<path d="M806.1 1956.1L809.4 1959.4M796.1 1956.1L809.4 1969.4M786.1 1956.1L802.7 1972.7M776.1 1956.1L792.7 1972.7M766.1 1956.1L782.7 1972.7M765.1 1965.1L772.7 1972.7" fill="none" stroke-width="1.8"/>
<rect x="765.10" y="1956.10" width="44.30" height="16.60" fill="none" stroke-width="3.8" rx="1"/>
<rect x="765.10" y="1995.80" width="44.30" height="17.30" fill="#000" stroke-width="3.8" rx="1"/>
<text transform="translate(835.20,1895.80) scale(1.0026,1)" font-size="26.2" font-weight="bold" text-anchor="start" stroke="#000" stroke-width="0.6" stroke-linejoin="round">Day -1</text>
<text transform="translate(835.13,1933.40) scale(1.0367,1)" font-size="26.2" font-weight="bold" text-anchor="start" stroke="#000" stroke-width="0.6" stroke-linejoin="round">Díay +8</text>
<text transform="translate(835.17,1974.20) scale(1.0144,1)" font-size="26.2" font-weight="bold" text-anchor="start" stroke="#000" stroke-width="0.6" stroke-linejoin="round">Day +15</text>
<text transform="translate(835.17,2014.30) scale(1.0175,1)" font-size="26.2" font-weight="bold" text-anchor="start" stroke="#000" stroke-width="0.6" stroke-linejoin="round">Day +22</text>
</g>
</svg>
</body></html>
